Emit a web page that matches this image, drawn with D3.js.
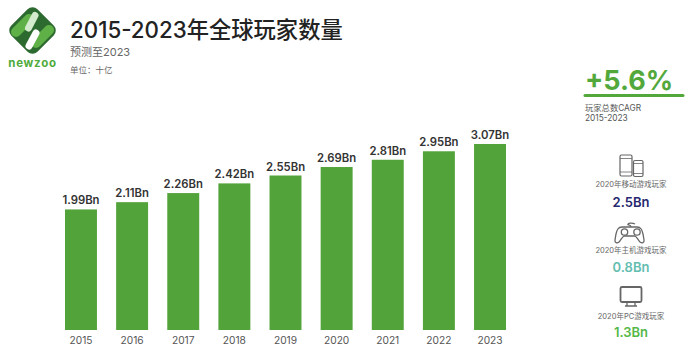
<!DOCTYPE html>
<html><head><meta charset="utf-8">
<script src="https://cdn.jsdelivr.net/npm/d3@7/dist/d3.min.js"></script>
<style>html,body{margin:0;padding:0;background:#fff}svg{display:block}
text{font-family:Inter,"Noto Sans CJK SC",sans-serif}</style></head><body>
<svg id="c" width="700" height="354"></svg>
<script>
const years=["2015","2016","2017","2018","2019","2020","2021","2022","2023"];
const players=[1.99,2.11,2.26,2.42,2.55,2.69,2.81,2.95,3.07];
const valueLabels=["1.99Bn","2.11Bn","2.26Bn","2.42Bn","2.55Bn","2.69Bn","2.81Bn","2.95Bn","3.07Bn"];
const segments=["2020年移动游戏玩家","2020年主机游戏玩家","2020年PC游戏玩家"];
const segmentValues=["2.5Bn","0.8Bn","1.3Bn"];
const segmentColors=["#26286f","#63bdb0","#55b848"];

const svg=d3.select("#c");
const x=d3.scaleBand().domain(years).range([65,506]).paddingInner(0.375).paddingOuter(0);
const y=d3.scaleLinear().domain([0,3.07]).range([330,144]);

svg.append("g").selectAll("rect").data(players).join("rect")
 .attr("x",(d,i)=>x(years[i])).attr("width",x.bandwidth())
 .attr("y",d=>y(d)).attr("height",d=>y(0)-y(d)).attr("fill","#53a33b");
svg.append("g").selectAll("text").data(players).join("text")
 .attr("x",(d,i)=>x(years[i])+x.bandwidth()/2).attr("y",d=>y(d)-5)
 .attr("text-anchor","middle").attr("font-size",11.3).attr("font-weight",600).attr("fill","#333")
 .text((d,i)=>valueLabels[i]);
const ax=svg.append("g").attr("transform","translate(0,330)").call(d3.axisBottom(x).tickSize(0).tickPadding(7));
ax.select(".domain").remove();
ax.selectAll("text").attr("font-size",10.2).attr("fill","#555").style("font-family",'Inter,"Noto Sans CJK SC",sans-serif');

function t(s,px,py,size,fill,weight,anchor){return svg.append("text").attr("x",px).attr("y",py).attr("font-size",size)
 .attr("fill",fill).attr("font-weight",weight||400).attr("text-anchor",anchor||"start").text(s);}
t("2015-2023年全球玩家数量",70,38,22.3,"#222",500);
t("预测至2023",70,56,11,"#666");
t("单位：十亿",70,73,8.5,"#666");
t("newzoo",32.5,67,11.5,"#50ab3c",700,"middle").attr("letter-spacing",0.7);

// logo
const logo=svg.append("g");
logo.append("rect").attr("x",-18.5).attr("y",-18.5).attr("width",37).attr("height",37).attr("rx",7)
 .attr("fill","#2d6a30").attr("transform","translate(32.5,30.5) rotate(45)");
logo.append("path").attr("d","M16 32 L29 19 M36 43 L49 30").attr("stroke","#5fb047").attr("stroke-width",10).attr("stroke-linecap","round");
logo.append("path").attr("d","M35 15.5 L28.5 28").attr("stroke","#d5ebcd").attr("stroke-width",7).attr("stroke-linecap","round");
logo.append("path").attr("d","M29 46 L36 33").attr("stroke","#fff").attr("stroke-width",7).attr("stroke-linecap","round");

// CAGR
t("+5.6%",585,90,27,"#53a83c",700);
svg.append("line").attr("x1",585).attr("x2",683).attr("y1",95.5).attr("y2",95.5).attr("stroke","#53a83c").attr("stroke-width",3).attr("stroke-linecap","round");
t("玩家总数CAGR",585,111,8.3,"#555");
t("2015-2023",585,121,8.3,"#555");

const cx=631;
segments.forEach((s,i)=>{
 const py=[187,253,319][i], vy=[207,272,337][i];
 t(s,cx,py,7.5,"#666",400,"middle");
 t(segmentValues[i],cx,vy,13,segmentColors[i],600,"middle");
});

// phone icons
const ic=svg.append("g").attr("fill","none").attr("stroke","#666").attr("stroke-width",1.2);
ic.append("rect").attr("x",620).attr("y",155).attr("width",12).attr("height",21).attr("rx",1.5);
ic.append("rect").attr("x",633.5).attr("y",160.5).attr("width",9.5).attr("height",16).attr("rx",1.5).attr("fill","#fff");
ic.append("path").attr("d","M620 158.5H632M620 172H632M633.5 163.5H643M633.5 173.5H643").attr("stroke-width",.8);
// gamepad
const g=svg.append("g").attr("fill","none").attr("stroke","#666").attr("stroke-width",1.3);
g.append("path").attr("d","M625 227 h12 c4 0 5 3 6 7 l1 6 c0.5 3 -2 3.5 -4 2 c-2 -2 -3 -5 -5 -6 h-11 c-2 1 -3 4 -5 6 c-2 1.5 -4.5 1 -4 -2 l1 -6 c1 -4 2 -7 6 -7 z");
g.append("circle").attr("cx",624.5).attr("cy",232).attr("r",3.2);
g.append("circle").attr("cx",637).attr("cy",232).attr("r",3.2);
g.append("path").attr("d","M631 227 c0 -3 -4 -1.5 -3 -3 c1 -1.5 5 -1 7 0");
// monitor
const m=svg.append("g").attr("fill","none").attr("stroke","#666");
m.append("rect").attr("x",620.5).attr("y",287).attr("width",21).attr("height",15).attr("rx",1.5).attr("stroke-width",1.8);
m.append("path").attr("d","M627 302v3.5M635 302v3.5M625 306H637").attr("stroke-width",1.3);
</script></body></html>
